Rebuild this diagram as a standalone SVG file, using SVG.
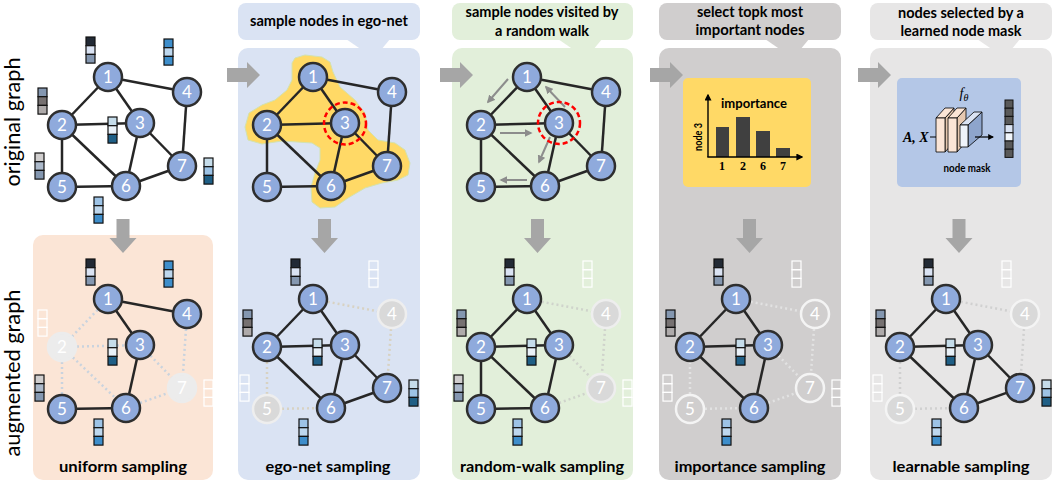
<svg xmlns="http://www.w3.org/2000/svg" xmlns:xlink="http://www.w3.org/1999/xlink" width="1055" height="485" viewBox="0 0 1055 485">
<style>
.nd circle{fill:#8faadc;stroke:#2e2e2e;stroke-width:2.5}
.nd text{fill:#fff;font-family:Lato,"Liberation Sans",sans-serif;font-size:17px;text-anchor:middle}
.nd.du circle{fill:#ececec;stroke:#ececec}
.nd.de circle{fill:#d9d9d9;stroke:#eeeeee}
.nd.di circle{fill:#d0cece;stroke:#f4f4f4}
.nd.dl circle{fill:#d9d9d9;stroke:#f4f4f4}
.e line{stroke:#262626;stroke-width:2.5}
.dt line{stroke-width:2.5;stroke-dasharray:2 3}
.lbl{font-family:Lato,"Liberation Sans",sans-serif;font-weight:bold;fill:#000;text-anchor:middle}
.side{font-family:Lato,"Liberation Sans",sans-serif;font-size:21px;fill:#000;text-anchor:middle}
.cl{stroke:#111;stroke-width:1.2}
.cw{fill:none;stroke:#fff;stroke-width:1.2}
</style>
<defs>
<path id="rarr" d="M0,-7 H20 V-13 L33,0 L20,13 V7 H0 Z" fill="#a6a6a6"/>
<path id="darr" d="M-6.5,0 H6.5 V19 H13.5 L0,34 L-13.5,19 H-6.5 Z" fill="#a6a6a6"/>
<marker id="ga" viewBox="0 0 10 10" refX="8" refY="5" markerWidth="4" markerHeight="4" orient="auto"><path d="M0,0 L10,5 L0,10 z" fill="#8c8c8c"/></marker>
<marker id="ba" viewBox="0 0 10 10" refX="8" refY="5" markerWidth="5" markerHeight="5" orient="auto"><path d="M0,0 L10,5 L0,10 z" fill="#000"/></marker>
<g id="vec1"><rect class="cl" x="0" y="0" width="9" height="8.7" fill="#222a35"/><rect class="cl" x="0" y="8.7" width="9" height="8.7" fill="#dae3f3"/><rect class="cl" x="0" y="17.4" width="9" height="8.7" fill="#8497b0"/></g>
<g id="vec2"><rect class="cl" x="0" y="0" width="9" height="8.7" fill="#8497b0"/><rect class="cl" x="0" y="8.7" width="9" height="8.7" fill="#767171"/><rect class="cl" x="0" y="17.4" width="9" height="8.7" fill="#aeaaaa"/></g>
<g id="vec3"><rect class="cl" x="0" y="0" width="9" height="8.7" fill="#c5dcea"/><rect class="cl" x="0" y="8.7" width="9" height="8.7" fill="#e9f1f8"/><rect class="cl" x="0" y="17.4" width="9" height="8.7" fill="#1f5f86"/></g>
<g id="vec4"><rect class="cl" x="0" y="0" width="9" height="8.7" fill="#3e8ecb"/><rect class="cl" x="0" y="8.7" width="9" height="8.7" fill="#bdd7ee"/><rect class="cl" x="0" y="17.4" width="9" height="8.7" fill="#3e8ecb"/></g>
<g id="vec5"><rect class="cl" x="0" y="0" width="9" height="8.7" fill="#d0cece"/><rect class="cl" x="0" y="8.7" width="9" height="8.7" fill="#acb9ca"/><rect class="cl" x="0" y="17.4" width="9" height="8.7" fill="#8497b0"/></g>
<g id="vec6"><rect class="cl" x="0" y="0" width="9" height="8.7" fill="#9dc3e6"/><rect class="cl" x="0" y="8.7" width="9" height="8.7" fill="#bdd7ee"/><rect class="cl" x="0" y="17.4" width="9" height="8.7" fill="#3e8ecb"/></g>
<g id="vec7"><rect class="cl" x="0" y="0" width="9" height="8.7" fill="#c5dcea"/><rect class="cl" x="0" y="8.7" width="9" height="8.7" fill="#9dc3e6"/><rect class="cl" x="0" y="17.4" width="9" height="8.7" fill="#1f5f86"/></g>
<g id="vecW"><rect class="cw" x="0" y="0" width="9" height="8.7"/><rect class="cw" x="0" y="8.7" width="9" height="8.7"/><rect class="cw" x="0" y="17.4" width="9" height="8.7"/></g>
</defs>

<rect width="1055" height="485" fill="#fff"/>

<!-- panel backgrounds -->
<g id="panels">
<rect x="33" y="235" width="180" height="245" rx="10" fill="#fbe5d6"/>
<rect x="238" y="3" width="182" height="37" rx="8" fill="#dae3f3"/>
<polygon points="346,39 390,39 381,50 362,50" fill="#dae3f3"/>
<rect x="238" y="48" width="182" height="432" rx="10" fill="#dae3f3"/>
<rect x="452" y="3" width="181" height="37" rx="8" fill="#e2efda"/>
<polygon points="558,39 602,39 593,50 574,50" fill="#e2efda"/>
<rect x="452" y="48" width="181" height="432" rx="10" fill="#e2efda"/>
<rect x="659" y="3" width="182" height="37" rx="8" fill="#d0cece"/>
<polygon points="765,39 809,39 800,50 781,50" fill="#d0cece"/>
<rect x="659" y="48" width="182" height="432" rx="10" fill="#d0cece"/>
<rect x="870" y="3" width="182" height="37" rx="8" fill="#e7e6e6"/>
<polygon points="977,39 1020,39 1011,50 993,50" fill="#e7e6e6"/>
<rect x="870" y="48" width="182" height="432" rx="10" fill="#e7e6e6"/>
</g>

<!-- header labels -->
<g id="headers" class="lbl" font-size="14.5">
<text x="329" y="26" textLength="158" lengthAdjust="spacingAndGlyphs">sample nodes in ego-net</text>
<text x="542" y="17" textLength="153" lengthAdjust="spacingAndGlyphs">sample nodes visited by</text>
<text x="542" y="36" textLength="94" lengthAdjust="spacingAndGlyphs">a random walk</text>
<text x="750" y="17" textLength="106" lengthAdjust="spacingAndGlyphs">select topk most</text>
<text x="750" y="35" textLength="109" lengthAdjust="spacingAndGlyphs">important nodes</text>
<text x="961" y="18" textLength="126" lengthAdjust="spacingAndGlyphs">nodes selected by a</text>
<text x="961" y="36" textLength="121" lengthAdjust="spacingAndGlyphs">learned node mask</text>
</g>

<!-- footer labels -->
<g id="footers" class="lbl" font-size="16">
<text x="123" y="472" textLength="128" lengthAdjust="spacingAndGlyphs">uniform sampling</text>
<text x="328" y="472" textLength="125" lengthAdjust="spacingAndGlyphs">ego-net sampling</text>
<text x="542" y="472" textLength="164" lengthAdjust="spacingAndGlyphs">random-walk sampling</text>
<text x="750" y="472" textLength="151" lengthAdjust="spacingAndGlyphs">importance sampling</text>
<text x="961" y="472" textLength="137" lengthAdjust="spacingAndGlyphs">learnable sampling</text>
</g>

<!-- side labels -->
<text class="side" transform="translate(20,122) rotate(-90)" textLength="129" lengthAdjust="spacingAndGlyphs">original graph</text>
<text class="side" transform="translate(20,373) rotate(-90)" textLength="167" lengthAdjust="spacingAndGlyphs">augmented graph</text>

<!-- block arrows -->
<g id="flow-arrows">
<use href="#rarr" x="227" y="75"/>
<use href="#rarr" x="440" y="75"/>
<use href="#rarr" x="650" y="75"/>
<use href="#rarr" x="858" y="75"/>
<use href="#darr" x="123" y="219"/>
<use href="#darr" x="324.5" y="219"/>
<use href="#darr" x="537.5" y="219"/>
<use href="#darr" x="749.5" y="219"/>
<use href="#darr" x="959" y="219"/>
</g>

<!-- ORIGINAL GRAPH -->
<g id="original">
<g id="orig-edges" class="e">
<line x1="108" y1="77" x2="62" y2="125"/><line x1="108" y1="77" x2="140" y2="123"/><line x1="108" y1="77" x2="187" y2="92"/>
<line x1="62" y1="125" x2="140" y2="123"/><line x1="62" y1="125" x2="62" y2="187"/><line x1="62" y1="125" x2="126" y2="186"/>
<line x1="140" y1="123" x2="126" y2="186"/><line x1="140" y1="123" x2="182" y2="166"/><line x1="187" y1="92" x2="182" y2="166"/>
<line x1="62" y1="187" x2="126" y2="186"/><line x1="126" y1="186" x2="182" y2="166"/>
</g>
<g id="orig-vectors">
<use href="#vec1" x="86" y="37"/><use href="#vec4" x="164" y="39"/><use href="#vec2" x="38" y="88"/><use href="#vec3" x="108" y="117"/>
<use href="#vec5" x="35" y="153"/><use href="#vec7" x="204" y="158"/><use href="#vec6" x="94" y="197"/>
</g>
<g id="o-n1" class="nd"><circle cx="108" cy="77" r="14"/><text x="108" y="83">1</text></g>
<g id="o-n2" class="nd"><circle cx="62" cy="125" r="14"/><text x="62" y="131">2</text></g>
<g id="o-n3" class="nd"><circle cx="140" cy="123" r="14"/><text x="140" y="129">3</text></g>
<g id="o-n4" class="nd"><circle cx="187" cy="92" r="14"/><text x="187" y="98">4</text></g>
<g id="o-n5" class="nd"><circle cx="62" cy="187" r="14"/><text x="62" y="193">5</text></g>
<g id="o-n6" class="nd"><circle cx="126" cy="186" r="14"/><text x="126" y="192">6</text></g>
<g id="o-n7" class="nd"><circle cx="182" cy="166" r="14"/><text x="182" y="172">7</text></g>
</g>

<!-- UNIFORM -->
<g id="uniform" transform="translate(0,222)">
<g id="u-edges-dropped" class="dt" stroke="#c9d3de">
<line x1="108" y1="77" x2="62" y2="125" stroke="#c9d3de"/><line x1="62" y1="125" x2="140" y2="123" stroke="#c9d3de"/><line x1="62" y1="125" x2="62" y2="187" stroke="#c9d3de"/>
<line x1="62" y1="125" x2="126" y2="186" stroke="#c9d3de"/><line x1="140" y1="123" x2="182" y2="166" stroke="#c9d3de"/><line x1="187" y1="92" x2="182" y2="166" stroke="#c9d3de"/>
<line x1="126" y1="186" x2="182" y2="166" stroke="#c9d3de"/>
</g>
<g id="u-edges" class="e">
<line x1="108" y1="77" x2="187" y2="92"/><line x1="108" y1="77" x2="140" y2="123"/><line x1="140" y1="123" x2="126" y2="186"/><line x1="62" y1="187" x2="126" y2="186"/>
</g>
<g id="u-vectors">
<use href="#vec1" x="86" y="37"/><use href="#vec4" x="164" y="39"/><use href="#vecW" x="38" y="88"/><use href="#vec3" x="108" y="117"/>
<use href="#vec5" x="35" y="153"/><use href="#vecW" x="204" y="158"/><use href="#vec6" x="94" y="197"/>
</g>
<g id="u-n1" class="nd"><circle cx="108" cy="77" r="14"/><text x="108" y="83">1</text></g>
<g id="u-n2" class="nd du"><circle cx="62" cy="125" r="14"/><text x="62" y="131">2</text></g>
<g id="u-n3" class="nd"><circle cx="140" cy="123" r="14"/><text x="140" y="129">3</text></g>
<g id="u-n4" class="nd"><circle cx="187" cy="92" r="14"/><text x="187" y="98">4</text></g>
<g id="u-n5" class="nd"><circle cx="62" cy="187" r="14"/><text x="62" y="193">5</text></g>
<g id="u-n6" class="nd"><circle cx="126" cy="186" r="14"/><text x="126" y="192">6</text></g>
<g id="u-n7" class="nd du"><circle cx="182" cy="166" r="14"/><text x="182" y="172">7</text></g>
</g>

<!-- EGO TOP -->
<path id="ego-region" d="M292,63 L295,58 L305,55 L322,57 L330,62 L333,72 L340,87 L355,100 L365,113 L368,130 L378,140 L395,143 L405,150 L410,163 L408,175 L398,180 L382,183 L365,188 L348,198 L335,207 L320,208 L312,202 L311,187 L315,173 L320,160 L320,148 L312,143 L282,141 L262,144 L248,140 L245,127 L249,113 L262,105 L275,100 L287,90 L292,80 Z" fill="#ffd966" stroke="#d3e2b0" stroke-width="1" stroke-linejoin="round"/>
<g id="ego-top" transform="translate(205,0)">
<g id="et-edges" class="e">
<line x1="108" y1="77" x2="62" y2="125"/><line x1="108" y1="77" x2="140" y2="123"/><line x1="108" y1="77" x2="187" y2="92"/>
<line x1="62" y1="125" x2="140" y2="123"/><line x1="62" y1="125" x2="62" y2="187"/><line x1="62" y1="125" x2="126" y2="186"/>
<line x1="140" y1="123" x2="126" y2="186"/><line x1="140" y1="123" x2="182" y2="166"/><line x1="187" y1="92" x2="182" y2="166"/>
<line x1="62" y1="187" x2="126" y2="186"/><line x1="126" y1="186" x2="182" y2="166"/>
</g>
<g id="et-n1" class="nd"><circle cx="108" cy="77" r="14"/><text x="108" y="83">1</text></g>
<g id="et-n2" class="nd"><circle cx="62" cy="125" r="14"/><text x="62" y="131">2</text></g>
<g id="et-n3" class="nd"><circle cx="140" cy="123" r="14"/><text x="140" y="129">3</text></g>
<g id="et-n4" class="nd"><circle cx="187" cy="92" r="14"/><text x="187" y="98">4</text></g>
<g id="et-n5" class="nd"><circle cx="62" cy="187" r="14"/><text x="62" y="193">5</text></g>
<g id="et-n6" class="nd"><circle cx="126" cy="186" r="14"/><text x="126" y="192">6</text></g>
<g id="et-n7" class="nd"><circle cx="182" cy="166" r="14"/><text x="182" y="172">7</text></g>
<circle cx="140" cy="123.5" r="21" fill="none" stroke="#ff0000" stroke-width="2.5" stroke-dasharray="5 3"/>
</g>

<!-- EGO BOTTOM -->
<g id="ego-bottom" transform="translate(205,222)">
<g id="eb-edges-dropped" class="dt">
<line x1="108" y1="77" x2="187" y2="92" stroke="#d8d2c2"/><line x1="187" y1="92" x2="182" y2="166" stroke="#d8d2c2"/>
<line x1="62" y1="125" x2="62" y2="187" stroke="#d8d2c2"/><line x1="62" y1="187" x2="126" y2="186" stroke="#d8d2c2"/>
</g>
<g id="eb-edges" class="e">
<line x1="108" y1="77" x2="62" y2="125"/><line x1="108" y1="77" x2="140" y2="123"/><line x1="62" y1="125" x2="140" y2="123"/>
<line x1="62" y1="125" x2="126" y2="186"/><line x1="140" y1="123" x2="126" y2="186"/><line x1="140" y1="123" x2="182" y2="166"/><line x1="126" y1="186" x2="182" y2="166"/>
</g>
<g id="eb-vectors">
<use href="#vec1" x="86" y="37"/><use href="#vecW" x="164" y="39"/><use href="#vec2" x="38" y="88"/><use href="#vec3" x="108" y="117"/>
<use href="#vecW" x="35" y="153"/><use href="#vec7" x="204" y="158"/><use href="#vec6" x="94" y="197"/>
</g>
<g id="eb-n1" class="nd"><circle cx="108" cy="77" r="14"/><text x="108" y="83">1</text></g>
<g id="eb-n2" class="nd"><circle cx="62" cy="125" r="14"/><text x="62" y="131">2</text></g>
<g id="eb-n3" class="nd"><circle cx="140" cy="123" r="14"/><text x="140" y="129">3</text></g>
<g id="eb-n4" class="nd de"><circle cx="187" cy="92" r="14"/><text x="187" y="98">4</text></g>
<g id="eb-n5" class="nd de"><circle cx="62" cy="187" r="14"/><text x="62" y="193">5</text></g>
<g id="eb-n6" class="nd"><circle cx="126" cy="186" r="14"/><text x="126" y="192">6</text></g>
<g id="eb-n7" class="nd"><circle cx="182" cy="166" r="14"/><text x="182" y="172">7</text></g>
</g>

<!-- RANDOM WALK TOP -->
<g id="rw-top" transform="translate(419,0)">
<g id="rt-edges" class="e">
<line x1="108" y1="77" x2="62" y2="125"/><line x1="108" y1="77" x2="140" y2="123"/><line x1="108" y1="77" x2="187" y2="92"/>
<line x1="62" y1="125" x2="140" y2="123"/><line x1="62" y1="125" x2="62" y2="187"/><line x1="62" y1="125" x2="126" y2="186"/>
<line x1="140" y1="123" x2="126" y2="186"/><line x1="140" y1="123" x2="182" y2="166"/><line x1="187" y1="92" x2="182" y2="166"/>
<line x1="62" y1="187" x2="126" y2="186"/><line x1="126" y1="186" x2="182" y2="166"/>
</g>
<g id="rt-n1" class="nd"><circle cx="108" cy="77" r="14"/><text x="108" y="83">1</text></g>
<g id="rt-n2" class="nd"><circle cx="62" cy="125" r="14"/><text x="62" y="131">2</text></g>
<g id="rt-n3" class="nd"><circle cx="140" cy="123" r="14"/><text x="140" y="129">3</text></g>
<g id="rt-n4" class="nd"><circle cx="187" cy="92" r="14"/><text x="187" y="98">4</text></g>
<g id="rt-n5" class="nd"><circle cx="62" cy="187" r="14"/><text x="62" y="193">5</text></g>
<g id="rt-n6" class="nd"><circle cx="126" cy="186" r="14"/><text x="126" y="192">6</text></g>
<g id="rt-n7" class="nd"><circle cx="182" cy="166" r="14"/><text x="182" y="172">7</text></g>
</g>
<g id="rw-walk" stroke="#8c8c8c" stroke-width="2" marker-end="url(#ga)">
<line x1="508" y1="79" x2="488" y2="102"/>
<line x1="500" y1="133" x2="531" y2="133"/>
<line x1="565" y1="107" x2="546" y2="87"/>
<line x1="550" y1="137" x2="539" y2="162"/>
<line x1="527" y1="180" x2="501" y2="180"/>
</g>
<circle cx="559" cy="123" r="21" fill="none" stroke="#ff0000" stroke-width="2.5" stroke-dasharray="5 3"/>

<!-- RANDOM WALK BOTTOM -->
<g id="rw-bottom" transform="translate(419,222)">
<g id="rb-edges-dropped" class="dt">
<line x1="108" y1="77" x2="187" y2="92" stroke="#cfd3cb"/><line x1="187" y1="92" x2="182" y2="166" stroke="#cfd3cb"/>
<line x1="140" y1="123" x2="182" y2="166" stroke="#cfd3cb"/><line x1="126" y1="186" x2="182" y2="166" stroke="#cfd3cb"/>
</g>
<g id="rb-edges" class="e">
<line x1="108" y1="77" x2="62" y2="125"/><line x1="108" y1="77" x2="140" y2="123"/><line x1="62" y1="125" x2="140" y2="123"/>
<line x1="62" y1="125" x2="62" y2="187"/><line x1="62" y1="125" x2="126" y2="186"/><line x1="140" y1="123" x2="126" y2="186"/><line x1="62" y1="187" x2="126" y2="186"/>
</g>
<g id="rb-vectors">
<use href="#vec1" x="86" y="37"/><use href="#vecW" x="164" y="39"/><use href="#vec2" x="38" y="88"/><use href="#vec3" x="108" y="117"/>
<use href="#vec5" x="35" y="153"/><use href="#vecW" x="204" y="158"/><use href="#vec6" x="94" y="197"/>
</g>
<g id="rb-n1" class="nd"><circle cx="108" cy="77" r="14"/><text x="108" y="83">1</text></g>
<g id="rb-n2" class="nd"><circle cx="62" cy="125" r="14"/><text x="62" y="131">2</text></g>
<g id="rb-n3" class="nd"><circle cx="140" cy="123" r="14"/><text x="140" y="129">3</text></g>
<g id="rb-n4" class="nd de"><circle cx="187" cy="92" r="14"/><text x="187" y="98">4</text></g>
<g id="rb-n5" class="nd"><circle cx="62" cy="187" r="14"/><text x="62" y="193">5</text></g>
<g id="rb-n6" class="nd"><circle cx="126" cy="186" r="14"/><text x="126" y="192">6</text></g>
<g id="rb-n7" class="nd de"><circle cx="182" cy="166" r="14"/><text x="182" y="172">7</text></g>
</g>

<!-- IMPORTANCE CHART -->
<g id="importance-chart">
<rect x="683" y="78" width="128" height="109" rx="5" fill="#ffd966"/>
<rect x="716" y="127" width="13" height="30" fill="#404040"/>
<rect x="736" y="117" width="14" height="40" fill="#404040"/>
<rect x="756" y="131" width="14" height="26" fill="#404040"/>
<rect x="776" y="148" width="14" height="9" fill="#404040"/>
<line x1="708" y1="157" x2="708" y2="95" stroke="#000" stroke-width="1.4" marker-end="url(#ba)"/>
<line x1="707.3" y1="157" x2="802" y2="157" stroke="#000" stroke-width="1.4" marker-end="url(#ba)"/>
<text class="lbl" x="754" y="108" font-size="13" textLength="66" lengthAdjust="spacingAndGlyphs">importance</text>
<text class="lbl" transform="translate(702,137) rotate(-90)" font-size="10.5" textLength="28" lengthAdjust="spacingAndGlyphs">node 3</text>
<g font-family="'Liberation Serif',serif" font-weight="bold" font-size="12" text-anchor="middle" fill="#000">
<text x="722" y="170">1</text><text x="743" y="170">2</text><text x="763" y="170">6</text><text x="783" y="170">7</text>
</g>
</g>

<!-- IMPORTANCE BOTTOM -->
<g id="imp-bottom" transform="translate(628,222)">
<g id="ib-edges-dropped" class="dt">
<line x1="108" y1="77" x2="187" y2="92" stroke="#e2e2e2"/><line x1="187" y1="92" x2="182" y2="166" stroke="#e2e2e2"/>
<line x1="140" y1="123" x2="182" y2="166" stroke="#e2e2e2"/><line x1="126" y1="186" x2="182" y2="166" stroke="#e2e2e2"/>
<line x1="62" y1="125" x2="62" y2="187" stroke="#e2e2e2"/><line x1="62" y1="187" x2="126" y2="186" stroke="#e2e2e2"/>
</g>
<g id="ib-edges" class="e">
<line x1="108" y1="77" x2="62" y2="125"/><line x1="108" y1="77" x2="140" y2="123"/><line x1="62" y1="125" x2="140" y2="123"/>
<line x1="62" y1="125" x2="126" y2="186"/><line x1="140" y1="123" x2="126" y2="186"/>
</g>
<g id="ib-vectors">
<use href="#vec1" x="86" y="37"/><use href="#vecW" x="164" y="39"/><use href="#vec2" x="38" y="88"/><use href="#vec3" x="108" y="117"/>
<use href="#vecW" x="35" y="153"/><use href="#vecW" x="204" y="158"/><use href="#vec6" x="94" y="197"/>
</g>
<g id="ib-n1" class="nd"><circle cx="108" cy="77" r="14"/><text x="108" y="83">1</text></g>
<g id="ib-n2" class="nd"><circle cx="62" cy="125" r="14"/><text x="62" y="131">2</text></g>
<g id="ib-n3" class="nd"><circle cx="140" cy="123" r="14"/><text x="140" y="129">3</text></g>
<g id="ib-n4" class="nd di"><circle cx="187" cy="92" r="14"/><text x="187" y="98">4</text></g>
<g id="ib-n5" class="nd di"><circle cx="62" cy="187" r="14"/><text x="62" y="193">5</text></g>
<g id="ib-n6" class="nd"><circle cx="126" cy="186" r="14"/><text x="126" y="192">6</text></g>
<g id="ib-n7" class="nd di"><circle cx="182" cy="166" r="14"/><text x="182" y="172">7</text></g>
</g>

<!-- LEARNABLE MASK -->
<g id="mask-model">
<rect x="897" y="78" width="124" height="109" rx="5" fill="#b4c7e7"/>
<text x="964" y="98" font-family="'Liberation Serif',serif" font-style="italic" font-size="14" text-anchor="middle" fill="#000">f<tspan font-size="10" dy="3">θ</tspan></text>
<text x="903" y="142" font-family="'Liberation Serif',serif" font-style="italic" font-weight="bold" font-size="14" fill="#000">A, X</text>
<line x1="930" y1="137" x2="936" y2="137" stroke="#000" stroke-width="1"/>
<g stroke="#000" stroke-width="0.8" stroke-linejoin="round">
<polygon points="945,118 954,108 954,142 945,152" fill="#e6c8b0"/>
<polygon points="936,118 945,118 954,108 945,108" fill="#fbe5d6"/>
<rect x="936" y="118" width="9" height="34" fill="#fbe5d6"/>
<polygon points="957,118 966,108 966,142 957,152" fill="#e6c8b0"/>
<polygon points="948,118 957,118 966,108 957,108" fill="#fbe5d6"/>
<rect x="948" y="118" width="9" height="34" fill="#fbe5d6"/>
<polygon points="968,125 982,112 982,135 968,147" fill="#8ea5cc"/>
<polygon points="960,125 968,125 982,112 974,112" fill="#dae3f3"/>
<rect x="960" y="125" width="8" height="22" fill="#eef3fa"/>
</g>
<line x1="975" y1="137" x2="993" y2="137" stroke="#000" stroke-width="1.2" marker-end="url(#ba)"/>
<g stroke="#111" stroke-width="1">
<rect x="1005" y="100" width="8" height="8.2" fill="#595959"/>
<rect x="1005" y="108.2" width="8" height="8.2" fill="#595959"/>
<rect x="1005" y="116.4" width="8" height="8.2" fill="#595959"/>
<rect x="1005" y="124.6" width="8" height="8.2" fill="#dae3f3"/>
<rect x="1005" y="132.8" width="8" height="8.2" fill="#f2f6fb"/>
<rect x="1005" y="141" width="8" height="8.2" fill="#595959"/>
<rect x="1005" y="149.2" width="8" height="8.2" fill="#595959"/>
</g>
<text class="lbl" x="967" y="172" font-size="11" textLength="47" lengthAdjust="spacingAndGlyphs">node mask</text>
</g>

<!-- LEARNABLE BOTTOM -->
<g id="learn-bottom" transform="translate(838,222)">
<g id="lb-edges-dropped" class="dt">
<line x1="108" y1="77" x2="187" y2="92" stroke="#d0d0d0"/><line x1="187" y1="92" x2="182" y2="166" stroke="#d0d0d0"/>
<line x1="62" y1="125" x2="62" y2="187" stroke="#d0d0d0"/><line x1="62" y1="187" x2="126" y2="186" stroke="#d0d0d0"/>
</g>
<g id="lb-edges" class="e">
<line x1="108" y1="77" x2="62" y2="125"/><line x1="108" y1="77" x2="140" y2="123"/><line x1="62" y1="125" x2="140" y2="123"/>
<line x1="62" y1="125" x2="126" y2="186"/><line x1="140" y1="123" x2="126" y2="186"/><line x1="140" y1="123" x2="182" y2="166"/><line x1="126" y1="186" x2="182" y2="166"/>
</g>
<g id="lb-vectors">
<use href="#vec1" x="86" y="37"/><use href="#vecW" x="164" y="39"/><use href="#vec2" x="38" y="88"/><use href="#vec3" x="108" y="117"/>
<use href="#vecW" x="35" y="153"/><use href="#vec7" x="204" y="158"/><use href="#vec6" x="94" y="197"/>
</g>
<g id="lb-n1" class="nd"><circle cx="108" cy="77" r="14"/><text x="108" y="83">1</text></g>
<g id="lb-n2" class="nd"><circle cx="62" cy="125" r="14"/><text x="62" y="131">2</text></g>
<g id="lb-n3" class="nd"><circle cx="140" cy="123" r="14"/><text x="140" y="129">3</text></g>
<g id="lb-n4" class="nd dl"><circle cx="187" cy="92" r="14"/><text x="187" y="98">4</text></g>
<g id="lb-n5" class="nd dl"><circle cx="62" cy="187" r="14"/><text x="62" y="193">5</text></g>
<g id="lb-n6" class="nd"><circle cx="126" cy="186" r="14"/><text x="126" y="192">6</text></g>
<g id="lb-n7" class="nd"><circle cx="182" cy="166" r="14"/><text x="182" y="172">7</text></g>
</g>
</svg>
